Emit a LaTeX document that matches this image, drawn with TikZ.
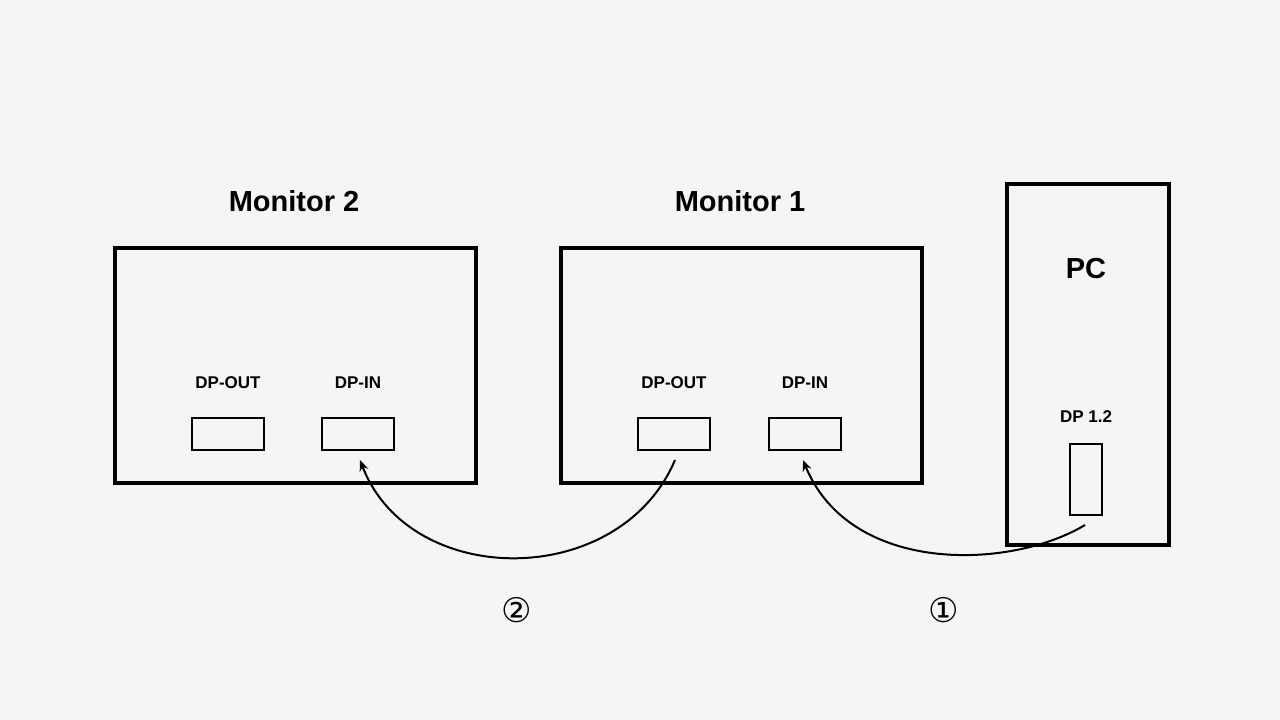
\documentclass[tikz,border=0pt]{standalone}
\usepackage{fontspec}
\setmainfont{Liberation Sans}
\newfontfamily\djv{DejaVu Sans}
\usetikzlibrary{arrows.meta}
\begin{document}
\begin{tikzpicture}[x=1pt,y=-1pt,
  box/.style={draw=black,line width=4pt},
  port/.style={draw=black,line width=2pt},
  ttl/.style={font=\fontsize{29}{32}\selectfont\bfseries},
  lbl/.style={font=\fontsize{17}{20}\selectfont\bfseries},
  num/.style={font=\djv\fontsize{34}{38}\selectfont},
  cable/.style={line width=2pt,-{Stealth[length=11pt,width=9pt]}}]
\fill[fill={rgb,255:red,245;green,245;blue,245}] (0,0) rectangle (1280,720);
\useasboundingbox (0,0) rectangle (1280,720);
\node[box,minimum width=361pt,minimum height=235pt,anchor=north west] (m2) at (113,246) {};
\node[box,minimum width=361pt,minimum height=235pt,anchor=north west] (m1) at (559,246) {};
\node[box,minimum width=162pt,minimum height=361pt,anchor=north west] (pc) at (1005,182) {};
\node[ttl] (t2) at (294,201) {Monitor 2};
\node[ttl] (t1) at (740,201) {Monitor 1};
\node[ttl] (tpc) at (1086,269) {PC};
\node[lbl] (l2o) at (228,383) {DP-OUT};
\node[lbl] (l2i) at (358,383) {DP-IN};
\node[lbl] (l1o) at (674,383) {DP-OUT};
\node[lbl] (l1i) at (805,383) {DP-IN};
\node[lbl] (lpc) at (1086,417) {DP 1.2};
\node[port,minimum width=72pt,minimum height=32pt] (p2o) at (228,434) {};
\node[port,minimum width=72pt,minimum height=32pt] (p2i) at (358,434) {};
\node[port,minimum width=72pt,minimum height=32pt] (p1o) at (674,434) {};
\node[port,minimum width=72pt,minimum height=32pt] (p1i) at (805,434) {};
\node[port,minimum width=32pt,minimum height=71pt] (ppc) at (1086,479.5) {};
\coordinate (a1) at (675,460);
\coordinate (b1) at (360,460);
\coordinate (a2) at (1085,525);
\coordinate (b2) at (803,460);
\draw[cable] (a1) .. controls (620,590) and (410,590) .. (b1);
\draw[cable] (a2) .. controls (1010,570) and (850,575) .. (b2);
\node[num] (n2) at (517,610) {②};
\node[num] (n1) at (944,610) {①};
\end{tikzpicture}
\end{document}
